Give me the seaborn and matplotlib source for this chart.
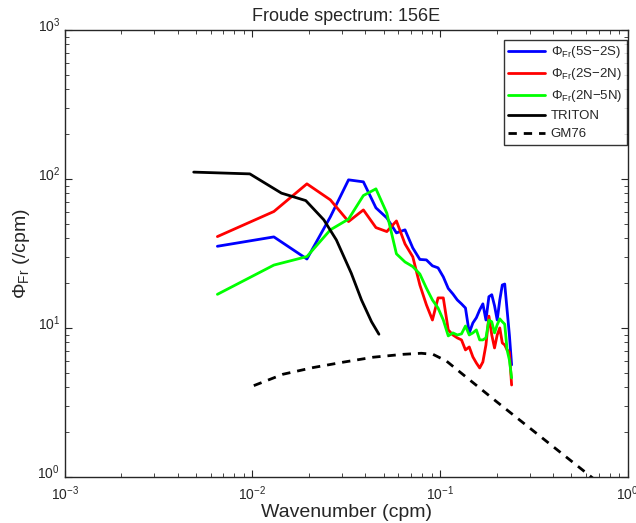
import numpy as np
import pandas as pd
import seaborn as sns
import matplotlib
matplotlib.use("Agg")
import matplotlib.pyplot as plt
import matplotlib.transforms as mtrans

# wavenumber grid of the Froude spectra (cpm)
k = [0.0065, 0.0130, 0.0195, 0.0260, 0.0325, 0.0390, 0.0455, 0.0520, 0.0585,
     0.0650, 0.0715, 0.0780, 0.0845, 0.0910, 0.0975, 0.1040, 0.1105, 0.1170,
     0.1235, 0.1300, 0.1365, 0.1430, 0.1495, 0.1560, 0.1625, 0.1690, 0.1755,
     0.1820, 0.1885, 0.1950, 0.2015, 0.2080, 0.2145, 0.2210, 0.2275, 0.2340,
     0.2405]

phi_5s2s = [35.3, 40.8, 29.0, 55.6, 98.5, 95.5, 63.9, 54.7, 43.4, 45.5,
            34.4, 28.8, 28.6, 26.1, 25.3, 22.0, 18.4, 16.9, 15.4, 14.5,
            13.6, 9.26, 10.8, 11.7, 13.2, 14.5, 11.3, 16.2, 16.7, 14.1,
            11.3, 15.4, 19.4, 19.7, 13.2, 8.97, 5.65]

phi_2s2n = [41.0, 60.4, 92.6, 72.3, 51.7, 61.9, 47.1, 44.3, 52.2, 36.6,
            30.0, 19.4, 14.3, 11.3, 15.9, 15.9, 9.7, 8.97, 8.57, 8.31,
            7.12, 7.45, 6.39, 5.82, 5.39, 5.91, 7.69, 12.0, 8.97, 7.34,
            8.97, 10.0, 7.93, 7.69, 7.12, 6.90, 4.14]

phi_2n5n = [16.8, 26.4, 30.1, 45.5, 53.7, 77.3, 85.7, 58.9, 31.4, 27.7,
            25.8, 23.0, 18.5, 15.4, 13.6, 11.3, 8.84, 9.26, 8.97, 9.12,
            10.3, 8.97, 9.26, 9.7, 8.31, 8.31, 8.57, 11.3, 11.0, 9.26,
            10.5, 11.5, 11.0, 10.6, 7.12, 6.10, 4.62]

k_triton = [0.00486, 0.00968, 0.01427, 0.01923, 0.0240, 0.0280, 0.0336,
            0.0381, 0.0431, 0.0472]
phi_triton = [111, 108, 80.2, 71.5, 53.1, 38.9, 23.3, 15.4, 11.0, 9.07]

k_gm = [0.01016, 0.01455, 0.02104, 0.0304, 0.0440, 0.0634, 0.0794, 0.0916,
        0.108, 0.127, 0.2, 0.4, 1.0]
phi_gm = [4.10, 4.89, 5.42, 5.89, 6.36, 6.65, 6.76, 6.65, 6.0, 5.08,
          3.2, 1.6, 0.64]

sns.set_style("ticks")
plt.rcParams["font.family"] = ["Liberation Sans", "DejaVu Sans"]
plt.rcParams["mathtext.fontset"] = "custom"
plt.rcParams["mathtext.rm"] = "Liberation Sans"
plt.rcParams["mathtext.it"] = "Liberation Sans"

fig = plt.figure(figsize=(6.36, 5.23), dpi=100)
ax = fig.add_axes([0.102, 0.088, 0.885, 0.855])

lw = 2.0
sns.lineplot(x=k, y=phi_5s2s, color=(0, 0, 1), lw=lw, ax=ax,
             label=r"$\Phi_{\mathrm{Fr}}$(5S$-$2S)")
sns.lineplot(x=k, y=phi_2s2n, color=(1, 0, 0), lw=lw, ax=ax,
             label=r"$\Phi_{\mathrm{Fr}}$(2S$-$2N)")
sns.lineplot(x=k, y=phi_2n5n, color=(0, 1, 0), lw=lw, ax=ax,
             label=r"$\Phi_{\mathrm{Fr}}$(2N$-$5N)")
sns.lineplot(x=k_triton, y=phi_triton, color="black", lw=lw, ax=ax,
             label="TRITON")
sns.lineplot(x=k_gm, y=phi_gm, color="black", lw=lw, ax=ax,
             linestyle=(0, (3, 2.5)), label="GM76")

ax.set_xscale("log")
ax.set_yscale("log")
ax.set_xlim(1e-3, 1e0)
ax.set_ylim(1e0, 1e3)

for s in ax.spines.values():
    s.set_visible(True)
    s.set_linewidth(1.0)
ax.tick_params(which="both", direction="in", top=True, right=True,
               labelsize=10)
ax.tick_params(which="major", length=5)
ax.tick_params(which="minor", length=3)
ax.tick_params(axis="x", pad=5)

# matlab puts the y tick labels a little above their ticks
fig.canvas.draw()
up = mtrans.ScaledTranslation(0, 4 / 72, fig.dpi_scale_trans)
for lab in ax.get_yticklabels():
    lab.set_transform(lab.get_transform() + up)

ax.set_title("Froude spectrum: 156E", fontsize=13)
ax.set_xlabel("Wavenumber (cpm)", fontsize=14, labelpad=1)
ax.set_ylabel(r"$\Phi_{\mathrm{Fr}}$ (/cpm)", fontsize=14)

leg = ax.legend(loc="upper right", bbox_to_anchor=(0.998, 0.978),
                fontsize=9.5, frameon=True, fancybox=False,
                edgecolor="black", borderaxespad=0, handlelength=2.8,
                handletextpad=0.4, labelspacing=0.45, borderpad=0.35)
leg.get_frame().set_linewidth(1.0)

fig.savefig("out.png", dpi=100)
